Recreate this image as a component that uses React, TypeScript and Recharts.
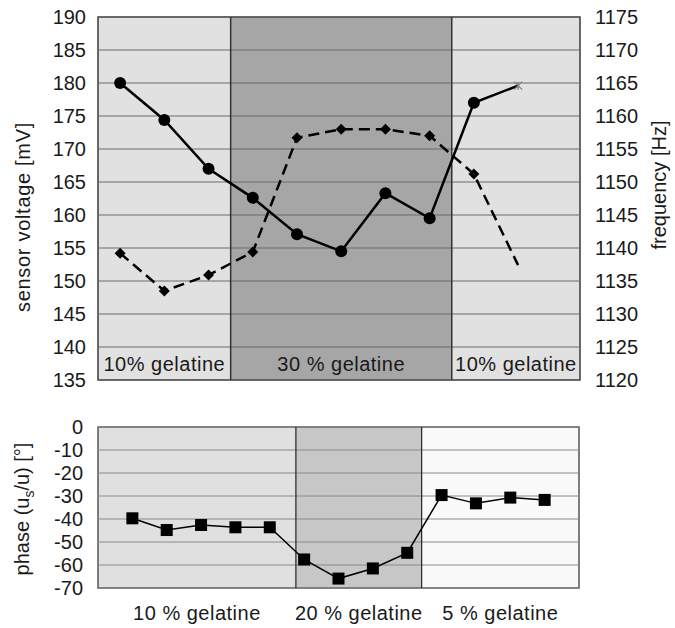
import { Line, LineChart, ReferenceArea, ReferenceLine, XAxis, YAxis } from 'recharts';

// upper panel: sensor voltage (solid) + frequency (dashed)
const topSamples = [1, 2, 3, 4, 5, 6, 7, 8, 9, 10];
const sensorVoltage = [180.0, 174.4, 167.0, 162.6, 157.1, 154.5, 163.3, 159.5, 177.0, 179.6];
const frequency = [1139.2, 1133.5, 1135.9, 1139.4, 1156.7, 1158.0, 1158.0, 1157.0, 1151.2, 1137.4];
const voltageTicks = [135, 140, 145, 150, 155, 160, 165, 170, 175, 180, 185, 190];
const frequencyTicks = [1120, 1125, 1130, 1135, 1140, 1145, 1150, 1155, 1160, 1165, 1170, 1175];
const topZones = ['10% gelatine', '30 % gelatine', '10% gelatine'];
const topZoneEdges = [0.5, 3.5, 8.5, 11.4];

// lower panel: phase
const bottomSamples = [1, 2, 3, 4, 5, 6, 7, 8, 9, 10, 11, 12, 13];
const phase = [-39.7, -44.8, -42.6, -43.6, -43.6, -57.6, -65.9, -61.5, -54.7, -29.6, -33.2, -30.7, -31.7];
const phaseTicks = [-70, -60, -50, -40, -30, -20, -10, 0];
const bottomZones = ['10 % gelatine', '20 % gelatine', '5 % gelatine'];
const bottomZoneEdges = [0, 5.76, 9.42, 14];

const topFills = ['#e1e1e1', '#a6a6a6', '#e1e1e1'];
const bottomFills = ['#e0e0e0', '#c7c7c7', '#f9f9f9'];
const ink = '#1a1a1a';
const tickStyle = { fontSize: 20, fill: ink };

const topData = topSamples.map((x, i) => ({ x, voltage: sensorVoltage[i], freq: frequency[i] }));
const bottomData = bottomSamples.map((x, i) => ({ x, phase: phase[i] }));

const voltageDot = (props: any) => {
  const { cx, cy, index } = props;
  if (index === sensorVoltage.length - 1) {
    return (
      <g key={`v${index}`} stroke="#808080" strokeWidth={1.3}>
        <line x1={cx - 4} y1={cy - 4} x2={cx + 4} y2={cy + 4} />
        <line x1={cx - 4} y1={cy + 4} x2={cx + 4} y2={cy - 4} />
        <line x1={cx} y1={cy - 4} x2={cx} y2={cy + 4} />
      </g>
    );
  }
  return <circle key={`v${index}`} cx={cx} cy={cy} r={6} fill="#000" />;
};

const freqDot = (props: any) => {
  const { cx, cy, index } = props;
  if (index === frequency.length - 1) return <g key={`f${index}`} />;
  const s = 5.5;
  return (
    <polygon
      key={`f${index}`}
      points={`${cx},${cy - s} ${cx + s},${cy} ${cx},${cy + s} ${cx - s},${cy}`}
      fill="#000"
    />
  );
};

const phaseDot = (props: any) => {
  const { cx, cy, index } = props;
  return <rect key={`p${index}`} x={cx - 6} y={cy - 6} width={12} height={12} fill="#000" />;
};

export default function App() {
  return (
    <div
      style={{
        position: 'absolute',
        left: 0,
        top: 0,
        width: 675,
        height: 628,
        background: '#fff',
        fontFamily: "'Liberation Sans', Arial, sans-serif",
      }}
    >
      <div style={{ position: 'absolute', left: 0, top: 0 }}>
        <LineChart width={675} height={400} data={topData} margin={{ top: 17, right: 40, bottom: 20, left: 40 }}>
          <XAxis dataKey="x" type="number" domain={[0.5, 11.4]} hide />
          <YAxis
            yAxisId="v"
            width={58}
            domain={[135, 190]}
            ticks={voltageTicks}
            interval={0}
            axisLine={false}
            tickLine={false}
            tickMargin={6}
            tick={tickStyle}
          />
          <YAxis
            yAxisId="f"
            orientation="right"
            width={55}
            domain={[1120, 1175]}
            ticks={frequencyTicks}
            interval={0}
            axisLine={false}
            tickLine={false}
            tickMargin={9}
            tick={tickStyle}
          />
          {topZones.map((name, i) => (
            <ReferenceArea
              key={`tz${i}`}
              yAxisId="v"
              x1={topZoneEdges[i]}
              x2={topZoneEdges[i + 1]}
              y1={135}
              y2={190}
              fill={topFills[i]}
              fillOpacity={1}
              stroke="none"
              label={{ value: name, position: 'insideBottom', offset: 9, fill: ink, fontSize: 20, letterSpacing: 0.5 }}
            />
          ))}
          {voltageTicks.map((t) => (
            <ReferenceLine key={`tg${t}`} yAxisId="v" y={t} stroke="#6a6a6a" strokeWidth={1} />
          ))}
          {topZoneEdges.slice(1, -1).map((e) => (
            <ReferenceLine key={`td${e}`} yAxisId="v" x={e} stroke="#333" strokeWidth={1.5} />
          ))}
          <ReferenceArea
            yAxisId="v"
            x1={0.5}
            x2={11.4}
            y1={135}
            y2={190}
            fill="none"
            stroke="#3a3a3a"
            strokeWidth={1.5}
          />
          <Line
            yAxisId="f"
            dataKey="freq"
            stroke="#000"
            strokeWidth={2.5}
            strokeDasharray="11 6"
            dot={freqDot}
            activeDot={false}
            isAnimationActive={false}
          />
          <Line
            yAxisId="v"
            dataKey="voltage"
            stroke="#000"
            strokeWidth={2.5}
            dot={voltageDot}
            activeDot={false}
            isAnimationActive={false}
          />
          <text
            x={30}
            y={217}
            transform="rotate(-90 30 217)"
            textAnchor="middle"
            fontSize={20}
            letterSpacing={0.7}
            fill={ink}
          >
            sensor voltage [mV]
          </text>
          <text
            x={666}
            y={185}
            transform="rotate(-90 666 185)"
            textAnchor="middle"
            fontSize={20}
            fill={ink}
          >
            frequency [Hz]
          </text>
        </LineChart>
      </div>
      <div style={{ position: 'absolute', left: 0, top: 400 }}>
        <LineChart width={675} height={228} data={bottomData} margin={{ top: 27, right: 96, bottom: 40, left: 40 }}>
          <XAxis dataKey="x" type="number" domain={[0, 14]} hide />
          <YAxis
            width={58}
            domain={[-70, 0]}
            ticks={phaseTicks}
            interval={0}
            axisLine={false}
            tickLine={false}
            tickMargin={9}
            tick={tickStyle}
          />
          {bottomZones.map((name, i) => (
            <ReferenceArea
              key={`bz${i}`}
              x1={bottomZoneEdges[i]}
              x2={bottomZoneEdges[i + 1]}
              y1={-70}
              y2={0}
              fill={bottomFills[i]}
              fillOpacity={1}
              stroke="none"
              label={{ value: name, position: 'bottom', offset: 18, fill: ink, fontSize: 20, letterSpacing: 0.5 }}
            />
          ))}
          {phaseTicks.map((t) => (
            <ReferenceLine key={`bg${t}`} y={t} stroke="#8a8a8a" strokeWidth={1} />
          ))}
          {bottomZoneEdges.slice(1, -1).map((e) => (
            <ReferenceLine key={`bd${e}`} x={e} stroke="#222" strokeWidth={1.2} />
          ))}
          <ReferenceArea x1={0} x2={14} y1={-70} y2={0} fill="none" stroke="#555" strokeWidth={1.5} />
          <Line
            dataKey="phase"
            stroke="#000"
            strokeWidth={1.5}
            dot={phaseDot}
            activeDot={false}
            isAnimationActive={false}
          />
          <text
            x={29}
            y={109}
            transform="rotate(-90 29 109)"
            textAnchor="middle"
            fontSize={20}
            fill={ink}
          >
            phase (u
            <tspan fontSize={14} dy={5}>s</tspan>
            <tspan dy={-5}>/u) [°]</tspan>
          </text>
        </LineChart>
      </div>
    </div>
  );
}
